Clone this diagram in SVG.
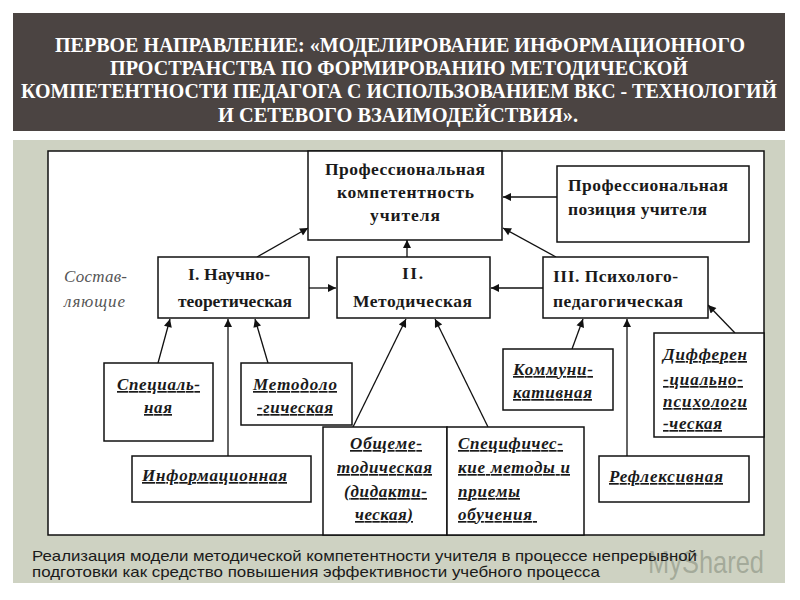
<svg xmlns="http://www.w3.org/2000/svg" width="800" height="600" viewBox="0 0 800 600">
<style>
.hdr{font-family:"Liberation Serif",serif;font-weight:bold;font-size:20px;fill:#ffffff;}
.box{fill:#ffffff;stroke:#111111;stroke-width:1.5;}
.t{font-family:"Liberation Serif",serif;font-weight:bold;font-size:17.5px;fill:#1a1a1a;}
.it{font-family:"Liberation Serif",serif;font-weight:bold;font-style:italic;font-size:17px;fill:#1a1a1a;text-decoration:underline;}
.side{font-family:"Liberation Serif",serif;font-style:italic;font-size:17px;fill:#555555;}
.foot{font-family:"Liberation Sans",sans-serif;font-size:15px;fill:#1a1a1a;}
.con line{stroke:#111111;stroke-width:1.3;marker-end:url(#ah);}
</style>
<defs>
<marker id="ah" viewBox="0 0 10 10" refX="10" refY="5" markerWidth="10" markerHeight="8" orient="auto" markerUnits="userSpaceOnUse">
<path d="M0,0 L10,5 L0,10 z" fill="#111111"/>
</marker>
</defs>
<rect x="0" y="0" width="800" height="600" fill="#ffffff"/>
<g id="header">
<rect x="13" y="13" width="772" height="118" fill="#4b4442"/>
<text class="hdr" x="55" y="52" textLength="690" lengthAdjust="spacingAndGlyphs">ПЕРВОЕ НАПРАВЛЕНИЕ: «МОДЕЛИРОВАНИЕ ИНФОРМАЦИОННОГО</text>
<text class="hdr" x="110" y="75" textLength="578" lengthAdjust="spacingAndGlyphs">ПРОСТРАНСТВА ПО ФОРМИРОВАНИЮ МЕТОДИЧЕСКОЙ</text>
<text class="hdr" x="21" y="98" textLength="756" lengthAdjust="spacingAndGlyphs">КОМПЕТЕНТНОСТИ ПЕДАГОГА С ИСПОЛЬЗОВАНИЕМ ВКС - ТЕХНОЛОГИЙ</text>
<text class="hdr" x="218" y="122" textLength="360" lengthAdjust="spacingAndGlyphs">И СЕТЕВОГО ВЗАИМОДЕЙСТВИЯ».</text>
</g>
<g id="panel">
<rect x="13" y="140" width="772" height="443" fill="#ced2c2"/>
<rect x="48" y="151" width="716" height="384" fill="#ffffff" stroke="#111111" stroke-width="1.5"/>
<text class="side" x="64" y="282" textLength="63">Состав-</text>
<text class="side" x="64" y="307" textLength="61">ляющие</text>
</g>
<g id="connectors" class="con">
<line x1="257" y1="257" x2="308" y2="228"/>
<line x1="407" y1="257" x2="407" y2="240"/>
<line x1="556" y1="257" x2="503" y2="228"/>
<line x1="557" y1="197" x2="503" y2="197"/>
<line x1="309" y1="288" x2="336" y2="288"/>
<line x1="543" y1="288" x2="491" y2="288"/>
<line x1="158" y1="363" x2="170" y2="319"/>
<line x1="268" y1="363" x2="255" y2="319"/>
<line x1="228" y1="456" x2="228" y2="319"/>
<line x1="353" y1="427" x2="406" y2="319"/>
<line x1="488" y1="427" x2="435" y2="319"/>
<line x1="572" y1="349" x2="583" y2="319"/>
<line x1="627" y1="456" x2="627" y2="319"/>
<line x1="735" y1="333" x2="708" y2="305"/>
</g>
<g id="competence">
<rect class="box" x="308" y="151" width="194" height="89"/>
<text class="t" x="325" y="175" textLength="160">Профессиональная</text>
<text class="t" x="337" y="198" textLength="137">компетентность</text>
<text class="t" x="370" y="221" textLength="70">учителя</text>
</g>
<g id="position">
<rect class="box" x="557" y="166" width="192" height="76"/>
<text class="t" x="568" y="191" textLength="160">Профессиональная</text>
<text class="t" x="568" y="215" textLength="139">позиция учителя</text>
</g>
<g id="scientific">
<rect class="box" x="158" y="257" width="151" height="61"/>
<text class="t" x="188" y="280" textLength="82">I. Научно-</text>
<text class="t" x="178" y="307" textLength="114">теоретическая</text>
</g>
<g id="methodical">
<rect class="box" x="337" y="257" width="153" height="61"/>
<text class="t" x="402" y="279" textLength="21">II.</text>
<text class="t" x="353" y="307" textLength="119">Методическая</text>
</g>
<g id="psychological">
<rect class="box" x="543" y="257" width="165" height="61"/>
<text class="t" x="553" y="282" textLength="125">III. Психолого-</text>
<text class="t" x="553" y="307" textLength="130">педагогическая</text>
</g>
<g id="special">
<rect class="box" x="104" y="363" width="109" height="78"/>
<text class="it" x="117" y="390" textLength="83">Специаль-</text>
<text class="it" x="144" y="413" textLength="28">ная</text>
</g>
<g id="methodological">
<rect class="box" x="241" y="363" width="111" height="62"/>
<text class="it" x="253" y="390" textLength="84">Методоло</text>
<text class="it" x="257" y="413" textLength="76">-гическая</text>
</g>
<g id="informational">
<rect class="box" x="132" y="456" width="179" height="46"/>
<text class="it" x="142" y="481" textLength="145">Информационная</text>
</g>
<g id="general">
<rect class="box" x="323" y="427" width="124" height="108"/>
<text class="it" x="350" y="449" textLength="72">Общеме-</text>
<text class="it" x="337" y="473" textLength="95">тодическая</text>
<text class="it" x="344" y="497" textLength="83">(дидакти-</text>
<text class="it" x="355" y="520" textLength="58">ческая)</text>
</g>
<g id="specific">
<rect class="box" x="447" y="427" width="137" height="108"/>
<text class="it" x="458" y="449" textLength="105">Специфичес-</text>
<text class="it" x="458" y="473" textLength="112">кие методы и</text>
<text class="it" x="458" y="497" textLength="62">приемы</text>
<text class="it" x="458" y="520" textLength="79" xml:space="preserve">обучения </text>
</g>
<g id="communicative">
<rect class="box" x="503" y="349" width="110" height="61"/>
<text class="it" x="513" y="375" textLength="80">Коммуни-</text>
<text class="it" x="513" y="398" textLength="79">кативная</text>
</g>
<g id="reflexive">
<rect class="box" x="599" y="456" width="150" height="46"/>
<text class="it" x="609" y="482" textLength="114">Рефлексивная</text>
</g>
<g id="differential">
<rect class="box" x="654" y="333" width="110" height="104"/>
<text class="it" x="663" y="360" textLength="84">Дифферен</text>
<text class="it" x="663" y="385" textLength="80">-циально-</text>
<text class="it" x="663" y="407" textLength="84">психологи</text>
<text class="it" x="663" y="429" textLength="59">-ческая</text>
</g>
<g id="footer">
<text x="648" y="573" font-family="Liberation Sans, sans-serif" font-size="32" fill="#7f8877" fill-opacity="0.55" textLength="116" lengthAdjust="spacingAndGlyphs">MyShared</text>
<text class="foot" x="32" y="561" textLength="665" lengthAdjust="spacingAndGlyphs">Реализация модели методической компетентности учителя в процессе непрерывной</text>
<text class="foot" x="32" y="577" textLength="568" lengthAdjust="spacingAndGlyphs">подготовки как средство повышения эффективности учебного процесса</text>
</g>
</svg>
